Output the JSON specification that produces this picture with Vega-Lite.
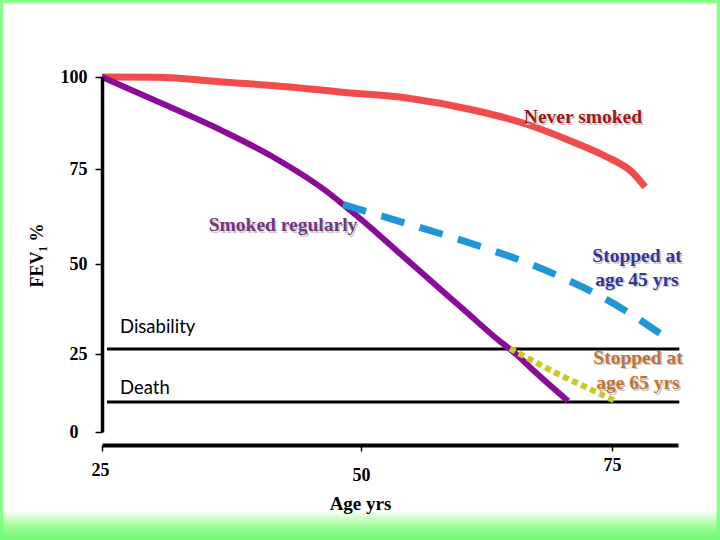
{
  "$schema": "https://vega.github.io/schema/vega-lite/v6.json",
  "width": 576,
  "height": 355,
  "autosize": {"type": "none"},
  "padding": {"left": 102, "top": 77, "right": 42, "bottom": 108},
  "background": "white",
  "config": {"view": {"stroke": null}},
  "datasets": {
    "frame": [
      {"part": "band", "x1": 15.15, "x2": 85.76, "y1": -25.2, "y2": -34.7}
    ],
    "outline": [
      {"part": "edge", "x1": 15.15, "x2": 85.76, "y1": 120.92, "y2": -34.7}
    ],
    "levels": [
      {"level": "Disability", "fev": 26.4, "from": 25.48, "to": 81.7},
      {"level": "Death", "fev": 9.6, "from": 25.48, "to": 81.7}
    ],
    "curves": [
      {"series": "Never smoked", "age": 25.0, "fev": 100.0},
      {"series": "Never smoked", "age": 30.31, "fev": 99.9},
      {"series": "Never smoked", "age": 36.68, "fev": 98.64},
      {"series": "Never smoked", "age": 43.15, "fev": 97.28},
      {"series": "Never smoked", "age": 47.97, "fev": 95.92},
      {"series": "Never smoked", "age": 54.58, "fev": 94.29},
      {"series": "Never smoked", "age": 61.16, "fev": 91.03},
      {"series": "Never smoked", "age": 66.14, "fev": 87.5},
      {"series": "Never smoked", "age": 71.12, "fev": 82.34},
      {"series": "Never smoked", "age": 74.5, "fev": 78.26},
      {"series": "Never smoked", "age": 77.09, "fev": 73.95},
      {"series": "Never smoked", "age": 78.29, "fev": 70.26},
      {"series": "Smoked regularly", "age": 25.0, "fev": 100.0},
      {"series": "Smoked regularly", "age": 30.31, "fev": 93.4},
      {"series": "Smoked regularly", "age": 36.68, "fev": 85.3},
      {"series": "Smoked regularly", "age": 41.51, "fev": 78.26},
      {"series": "Smoked regularly", "age": 47.01, "fev": 68.42},
      {"series": "Smoked regularly", "age": 48.26, "fev": 65.66},
      {"series": "Smoked regularly", "age": 50.2, "fev": 61.31},
      {"series": "Smoked regularly", "age": 53.59, "fev": 53.42},
      {"series": "Smoked regularly", "age": 56.87, "fev": 45.56},
      {"series": "Smoked regularly", "age": 60.16, "fev": 37.5},
      {"series": "Smoked regularly", "age": 63.55, "fev": 29.17},
      {"series": "Smoked regularly", "age": 65.54, "fev": 24.68},
      {"series": "Smoked regularly", "age": 67.13, "fev": 19.87},
      {"series": "Smoked regularly", "age": 70.62, "fev": 9.94},
      {"series": "Stopped at 45", "age": 48.26, "fev": 65.66},
      {"series": "Stopped at 45", "age": 54.38, "fev": 60.79},
      {"series": "Stopped at 45", "age": 58.37, "fev": 57.63},
      {"series": "Stopped at 45", "age": 62.35, "fev": 54.21},
      {"series": "Stopped at 45", "age": 66.33, "fev": 50.52},
      {"series": "Stopped at 45", "age": 70.12, "fev": 46.11},
      {"series": "Stopped at 45", "age": 74.0, "fev": 40.83},
      {"series": "Stopped at 45", "age": 77.49, "fev": 35.0},
      {"series": "Stopped at 45", "age": 80.98, "fev": 28.33},
      {"series": "Stopped at 65", "age": 64.84, "fev": 26.5},
      {"series": "Stopped at 65", "age": 67.33, "fev": 22.44},
      {"series": "Stopped at 65", "age": 69.82, "fev": 18.27},
      {"series": "Stopped at 65", "age": 72.81, "fev": 13.78},
      {"series": "Stopped at 65", "age": 75.5, "fev": 9.62}
    ],
    "notes": [
      {"series": "Never smoked", "text": "Never smoked", "age": 72.11, "fev": 89.1},
      {"series": "Smoked regularly", "text": "Smoked regularly", "age": 42.47, "fev": 60.26},
      {"series": "Stopped at 45", "text": "Stopped at", "age": 77.49, "fev": 52.1},
      {"series": "Stopped at 45", "text": "age 45 yrs", "age": 77.49, "fev": 45.56},
      {"series": "Stopped at 65", "text": "Stopped at", "age": 77.59, "fev": 23.72},
      {"series": "Stopped at 65", "text": "age 65 yrs", "age": 77.59, "fev": 15.7}
    ],
    "levelnotes": [
      {"text": "Disability", "age": 26.74, "fev": 32.5},
      {"text": "Death", "age": 26.74, "fev": 14.1}
    ]
  },
  "layer": [
    {
      "data": {"name": "frame"},
      "mark": {
        "type": "rect",
        "fill": {"gradient": "linear", "x1": 0, "y1": 0, "x2": 0, "y2": 1,
          "stops": [{"offset": 0, "color": "#ffffff"}, {"offset": 0.4, "color": "#b4ffac"}, {"offset": 1, "color": "#66f566"}]},
        "stroke": null
      },
      "encoding": {
        "x": {"field": "x1", "type": "quantitative", "scale": {"domain": [25, 50, 75, 81.57], "range": [0, 259, 510, 576], "nice": false, "zero": false}},
        "x2": {"field": "x2"},
        "y": {"field": "y1", "type": "quantitative", "scale": {"domain": [0, 25, 50, 75, 100], "range": [355, 277, 187, 92, 0], "nice": false, "zero": false}},
        "y2": {"field": "y2"}
      }
    },
    {
      "data": {"name": "outline"},
      "mark": {"type": "rect", "fill": null, "stroke": "#70ff70", "strokeWidth": 7, "strokeOpacity": 0.8},
      "encoding": {
        "x": {"field": "x1", "type": "quantitative"},
        "x2": {"field": "x2"},
        "y": {"field": "y1", "type": "quantitative"},
        "y2": {"field": "y2"}
      }
    },
    {
      "data": {"name": "levels"},
      "mark": {"type": "rule", "color": "black", "strokeWidth": 3},
      "encoding": {
        "x": {"field": "from", "type": "quantitative"},
        "x2": {"field": "to"},
        "y": {"field": "fev", "type": "quantitative"}
      }
    },
    {
      "data": {"name": "curves"},
      "transform": [{"filter": "datum.series == 'Never smoked'"}],
      "mark": {"type": "line", "color": "#F24B4B", "strokeWidth": 7, "interpolate": "monotone"},
      "encoding": {
        "x": {"field": "age", "type": "quantitative"},
        "y": {"field": "fev", "type": "quantitative"}
      }
    },
    {
      "data": {"name": "curves"},
      "transform": [{"filter": "datum.series == 'Smoked regularly'"}],
      "mark": {"type": "line", "color": "#8B0A99", "strokeWidth": 6, "interpolate": "monotone"},
      "encoding": {
        "x": {"field": "age", "type": "quantitative"},
        "y": {"field": "fev", "type": "quantitative"}
      }
    },
    {
      "data": {"name": "curves"},
      "transform": [{"filter": "datum.series == 'Stopped at 45'"}],
      "mark": {"type": "line", "color": "#1E96D8", "strokeWidth": 7, "strokeDash": [24, 16], "interpolate": "monotone"},
      "encoding": {
        "x": {"field": "age", "type": "quantitative"},
        "y": {"field": "fev", "type": "quantitative"}
      }
    },
    {
      "data": {"name": "curves"},
      "transform": [{"filter": "datum.series == 'Stopped at 65'"}],
      "mark": {"type": "line", "color": "#C9C925", "strokeWidth": 6, "strokeDash": [6, 4], "interpolate": "monotone"},
      "encoding": {
        "x": {"field": "age", "type": "quantitative"},
        "y": {"field": "fev", "type": "quantitative"}
      }
    },
    {
      "data": {"name": "notes"},
      "mark": {"type": "text", "font": "Liberation Serif", "fontWeight": "bold", "fontSize": 19.5, "align": "center", "baseline": "middle", "dx": 1.5, "dy": 1.5, "color": "#c8c8c8"},
      "encoding": {
        "x": {"field": "age", "type": "quantitative"},
        "y": {"field": "fev", "type": "quantitative"},
        "text": {"field": "text"}
      }
    },
    {
      "data": {"name": "notes"},
      "mark": {"type": "text", "font": "Liberation Serif", "fontWeight": "bold", "fontSize": 19.5, "align": "center", "baseline": "middle"},
      "encoding": {
        "x": {"field": "age", "type": "quantitative"},
        "y": {"field": "fev", "type": "quantitative"},
        "text": {"field": "text"},
        "color": {"field": "series", "type": "nominal", "legend": null,
          "scale": {"domain": ["Never smoked", "Smoked regularly", "Stopped at 45", "Stopped at 65"], "range": ["#A01818", "#74367A", "#35359C", "#C4722E"]}}
      }
    },
    {
      "data": {"name": "levelnotes"},
      "mark": {"type": "text", "font": "Lato", "fontSize": 18.5, "align": "left", "baseline": "middle", "color": "black"},
      "encoding": {
        "x": {"field": "age", "type": "quantitative",
          "axis": {"values": [25, 50, 75], "title": "Age yrs", "orient": "bottom", "offset": 13, "zindex": 1,
            "domainColor": "black", "domainWidth": 4, "domainCap": "butt",
            "tickColor": "black", "tickWidth": 1.5, "tickSize": 6,
            "labelFont": "Liberation Serif", "labelFontWeight": "bold", "labelFontSize": 18, "labelColor": "black",
            "labelBaseline": "middle", "labelFlush": false,
            "labelPadding": {"expr": "datum.value == 25 ? 19 : datum.value == 50 ? 24 : 14"},
            "labelOffset": {"expr": "datum.value == 25 ? -2 : 0"},
            "grid": false,
            "titleFont": "Liberation Serif", "titleFontWeight": "bold", "titleFontSize": 19, "titleColor": "black",
            "titleBaseline": "middle", "titleY": 58, "titleX": 258}},
        "y": {"field": "fev", "type": "quantitative",
          "axis": {"values": [0, 25, 50, 75, 100], "title": "FEV₁ %", "orient": "left", "zindex": 1,
            "domainColor": "black", "domainWidth": 3.5, "domainCap": "butt",
            "tickColor": "black", "tickWidth": 1.5, "tickSize": 7,
            "labelFont": "Liberation Serif", "labelFontWeight": "bold", "labelFontSize": 18, "labelColor": "black",
            "labelPadding": {"expr": "datum.value == 0 ? 17 : 8"},
            "labelFlush": false, "grid": false,
            "titleFont": "Liberation Serif", "titleFontWeight": "bold", "titleFontSize": 18, "titleColor": "black",
            "titleAngle": -90, "titleBaseline": "middle", "titleX": -65, "titleY": 178}},
        "text": {"field": "text"}
      }
    }
  ]
}
